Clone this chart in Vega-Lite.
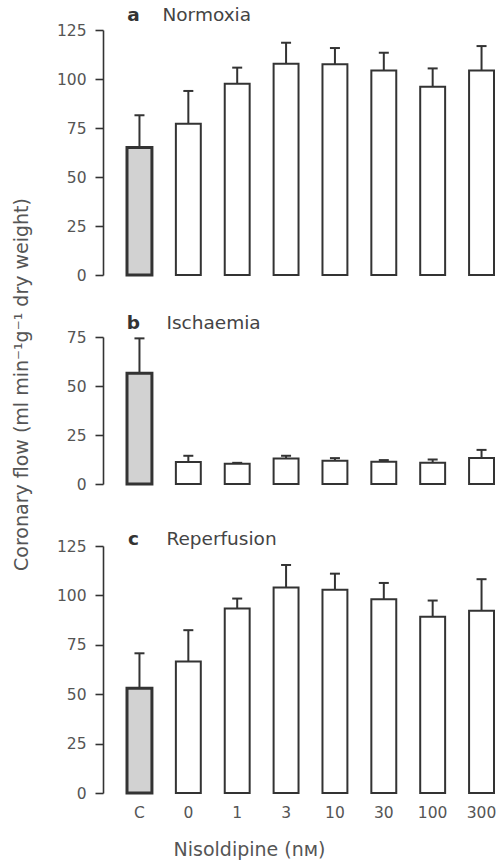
{
  "$schema": "https://vega.github.io/schema/vega-lite/v6.json",
  "background": "white",
  "padding": {"left": 11, "top": 5, "right": 1, "bottom": 5},
  "bounds": "flush",
  "spacing": 62,
  "resolve": {"scale": {"y": "independent", "x": "independent"}},
  "config": {
    "view": {"stroke": null},
    "font": "DejaVu Sans",
    "axis": {
      "labelFont": "DejaVu Sans", "labelFontSize": 15.5, "labelColor": "#555",
      "domainColor": "#333", "domainWidth": 1.6, "tickColor": "#333", "tickWidth": 1.6, "tickSize": 8,
      "labelPadding": 9, "grid": false,
      "titleFont": "DejaVu Sans", "titleFontWeight": "normal", "titleColor": "#555", "titleFontSize": 19
    }
  },
  "datasets": {
    "flow": [
      {"panel": "a", "dose": "C", "mean": 65, "upper": 81.5},
      {"panel": "a", "dose": "0", "mean": 77.2, "upper": 93.9},
      {"panel": "a", "dose": "1", "mean": 97.6, "upper": 105.8},
      {"panel": "a", "dose": "3", "mean": 107.8, "upper": 118.5},
      {"panel": "a", "dose": "10", "mean": 107.5, "upper": 115.8},
      {"panel": "a", "dose": "30", "mean": 104.4, "upper": 113.4},
      {"panel": "a", "dose": "100", "mean": 96.1, "upper": 105.4},
      {"panel": "a", "dose": "300", "mean": 104.4, "upper": 116.8},
      {"panel": "b", "dose": "C", "mean": 56.5, "upper": 74.3},
      {"panel": "b", "dose": "0", "mean": 11.2, "upper": 14.4},
      {"panel": "b", "dose": "1", "mean": 10.3, "upper": 10.8},
      {"panel": "b", "dose": "3", "mean": 13.0, "upper": 14.4},
      {"panel": "b", "dose": "10", "mean": 11.8, "upper": 13.2},
      {"panel": "b", "dose": "30", "mean": 11.4, "upper": 12.2},
      {"panel": "b", "dose": "100", "mean": 10.9, "upper": 12.5},
      {"panel": "b", "dose": "300", "mean": 13.3, "upper": 17.4},
      {"panel": "c", "dose": "C", "mean": 53, "upper": 70.7},
      {"panel": "c", "dose": "0", "mean": 66.6, "upper": 82.4},
      {"panel": "c", "dose": "1", "mean": 93.4, "upper": 98.4},
      {"panel": "c", "dose": "3", "mean": 104, "upper": 115.4},
      {"panel": "c", "dose": "10", "mean": 102.8, "upper": 111},
      {"panel": "c", "dose": "30", "mean": 98.1, "upper": 106.3},
      {"panel": "c", "dose": "100", "mean": 89.2, "upper": 97.4},
      {"panel": "c", "dose": "300", "mean": 92.2, "upper": 108.2}
    ]
  },
  "vconcat": [
    {
      "width": 397, "height": 245,
      "encoding": {
        "x": {"field": "dose", "type": "nominal",
          "scale": {"domain": ["C","0","1","3","10","30","100","300"], "paddingInner": 0.49, "paddingOuter": 0.307, "align": 0.8},
          "axis": null}
      },
      "layer": [
        {
          "data": {"name": "flow"},
          "transform": [{"filter": "datum.panel === 'a'"}],
          "layer": [
            {"mark": {"type": "rule", "stroke": "#333", "strokeWidth": 2},
             "encoding": {"y": {"field": "mean", "type": "quantitative", "scale": {"domain": [0,125], "nice": false},
               "axis": {"values": [0,25,50,75,100,125], "title": null}},
               "y2": {"field": "upper"}}},
            {"mark": {"type": "bar", "stroke": "#333"},
             "encoding": {"y": {"field": "mean", "type": "quantitative"},
               "fill": {"condition": {"test": "datum.dose === 'C'", "value": "#d2d2d2"}, "value": "white"},
               "strokeWidth": {"condition": {"test": "datum.dose === 'C'", "value": 3}, "value": 2}}},
            {"mark": {"type": "tick", "color": "#333", "size": 10, "thickness": 2, "opacity": 1},
             "encoding": {"y": {"field": "upper", "type": "quantitative"}}}
          ]
        },
        {"data": {"values": [{"letter": "a", "name": "Normoxia"}]},
         "layer": [
           {"mark": {"type": "text", "fontWeight": "bold", "fontSize": 18.5, "color": "#333", "align": "center", "baseline": "middle", "dx": -6},
            "encoding": {"x": {"datum": "C"}, "y": {"datum": 132.8}, "text": {"field": "letter"}}},
           {"mark": {"type": "text", "fontSize": 18.5, "color": "#444", "align": "left", "baseline": "middle", "dx": 23},
            "encoding": {"x": {"datum": "C"}, "y": {"datum": 132.8}, "text": {"field": "name"}}}
         ]}
      ]
    },
    {
      "width": 397, "height": 147,
      "encoding": {
        "x": {"field": "dose", "type": "nominal",
          "scale": {"domain": ["C","0","1","3","10","30","100","300"], "paddingInner": 0.49, "paddingOuter": 0.307, "align": 0.8},
          "axis": null}
      },
      "layer": [
        {
          "data": {"name": "flow"},
          "transform": [{"filter": "datum.panel === 'b'"}],
          "layer": [
            {"mark": {"type": "rule", "stroke": "#333", "strokeWidth": 2},
             "encoding": {"y": {"field": "mean", "type": "quantitative", "scale": {"domain": [0,75], "nice": false},
               "axis": {"values": [0,25,50,75], "title": "Coronary flow (ml min⁻¹g⁻¹ dry weight)",
                 "titleX": -82, "titleY": 47, "titleAngle": -90, "titleAlign": "center", "titleBaseline": "middle"}},
               "y2": {"field": "upper"}}},
            {"mark": {"type": "bar", "stroke": "#333"},
             "encoding": {"y": {"field": "mean", "type": "quantitative"},
               "fill": {"condition": {"test": "datum.dose === 'C'", "value": "#d2d2d2"}, "value": "white"},
               "strokeWidth": {"condition": {"test": "datum.dose === 'C'", "value": 3}, "value": 2}}},
            {"mark": {"type": "tick", "color": "#333", "size": 10, "thickness": 2, "opacity": 1},
             "encoding": {"y": {"field": "upper", "type": "quantitative"}}}
          ]
        },
        {"data": {"values": [{"letter": "b", "name": "Ischaemia"}]},
         "layer": [
           {"mark": {"type": "text", "fontWeight": "bold", "fontSize": 18.5, "color": "#333", "align": "center", "baseline": "middle", "dx": -6},
            "encoding": {"x": {"datum": "C"}, "y": {"datum": 82.3}, "text": {"field": "letter"}}},
           {"mark": {"type": "text", "fontSize": 18.5, "color": "#444", "align": "left", "baseline": "middle", "dx": 27},
            "encoding": {"x": {"datum": "C"}, "y": {"datum": 82.3}, "text": {"field": "name"}}}
         ]}
      ]
    },
    {
      "width": 397, "height": 247,
      "encoding": {
        "x": {"field": "dose", "type": "nominal",
          "scale": {"domain": ["C","0","1","3","10","30","100","300"], "paddingInner": 0.49, "paddingOuter": 0.307, "align": 0.8},
          "axis": {"title": "Nisoldipine (nᴍ)", "labelAngle": 0, "domain": false, "ticks": false, "labelPadding": 12,
            "titleX": 146, "titleY": 56, "titleAlign": "center", "titleBaseline": "middle"}}
      },
      "layer": [
        {
          "data": {"name": "flow"},
          "transform": [{"filter": "datum.panel === 'c'"}],
          "layer": [
            {"mark": {"type": "rule", "stroke": "#333", "strokeWidth": 2},
             "encoding": {"y": {"field": "mean", "type": "quantitative", "scale": {"domain": [0,125], "nice": false},
               "axis": {"values": [0,25,50,75,100,125], "title": null}},
               "y2": {"field": "upper"}}},
            {"mark": {"type": "bar", "stroke": "#333"},
             "encoding": {"y": {"field": "mean", "type": "quantitative"},
               "fill": {"condition": {"test": "datum.dose === 'C'", "value": "#d2d2d2"}, "value": "white"},
               "strokeWidth": {"condition": {"test": "datum.dose === 'C'", "value": 3}, "value": 2}}},
            {"mark": {"type": "tick", "color": "#333", "size": 10, "thickness": 2, "opacity": 1},
             "encoding": {"y": {"field": "upper", "type": "quantitative"}}}
          ]
        },
        {"data": {"values": [{"letter": "c", "name": "Reperfusion"}]},
         "layer": [
           {"mark": {"type": "text", "fontWeight": "bold", "fontSize": 18.5, "color": "#333", "align": "center", "baseline": "middle", "dx": -6},
            "encoding": {"x": {"datum": "C"}, "y": {"datum": 128.5}, "text": {"field": "letter"}}},
           {"mark": {"type": "text", "fontSize": 18.5, "color": "#444", "align": "left", "baseline": "middle", "dx": 27},
            "encoding": {"x": {"datum": "C"}, "y": {"datum": 128.5}, "text": {"field": "name"}}}
         ]}
      ]
    }
  ]
}
